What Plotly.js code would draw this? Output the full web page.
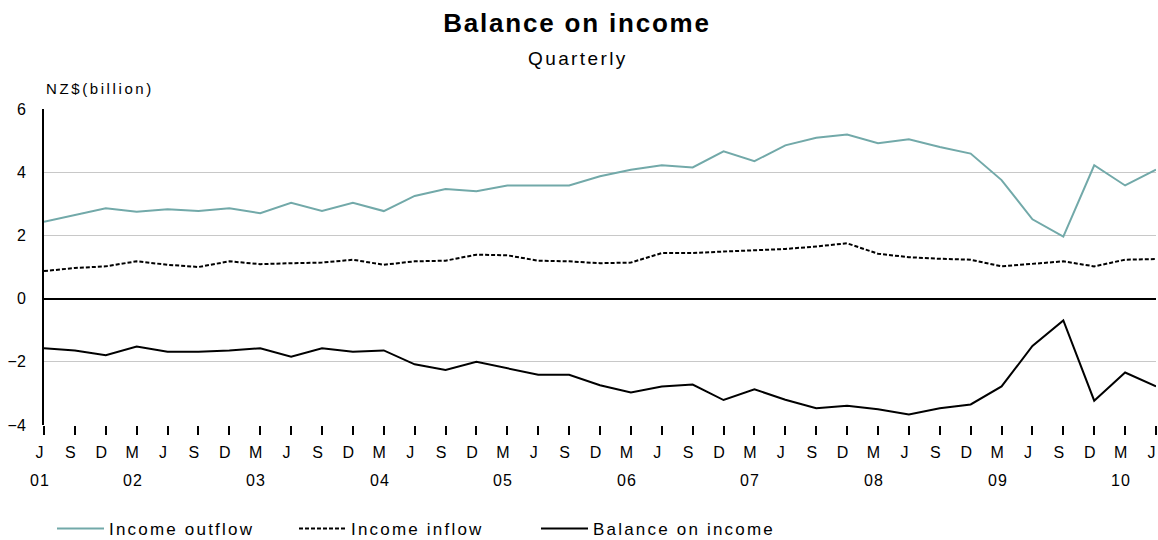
<!DOCTYPE html>
<html>
<head>
<meta charset="utf-8">
<script src="https://cdn.plot.ly/plotly-3.0.1.min.js"></script>
<style>
  html, body { margin: 0; padding: 0; background: #fff; }
  #chart { width: 1158px; height: 540px; }
</style>
</head>
<body>
<div id="chart"></div>
<script>
const quarters = ['J','S','D','M','J','S','D','M','J','S','D','M','J','S','D','M','J','S','D','M',
                  'J','S','D','M','J','S','D','M','J','S','D','M','J','S','D','M','J'];
const years = ['01','02','03','04','05','06','07','08','09','10'];
const seriesNames = ['Income outflow', 'Income inflow', 'Balance on income'];

const outflow = [2.43,2.65,2.86,2.75,2.83,2.77,2.86,2.70,3.03,2.77,3.03,2.77,
                 3.25,3.47,3.40,3.58,3.58,3.58,3.87,4.08,4.22,4.15,4.66,4.35,
                 4.85,5.09,5.19,4.92,5.04,4.80,4.59,3.75,2.51,1.96,4.22,3.58,4.08];
const inflow  = [0.87,0.97,1.02,1.18,1.07,1.00,1.18,1.09,1.12,1.14,1.23,1.07,
                 1.18,1.20,1.39,1.37,1.20,1.18,1.12,1.14,1.44,1.44,1.49,1.54,
                 1.57,1.65,1.75,1.42,1.31,1.26,1.23,1.02,1.09,1.18,1.02,1.23,1.25];
const balance = [-1.57,-1.64,-1.79,-1.52,-1.68,-1.68,-1.64,-1.57,-1.84,-1.57,-1.68,-1.64,
                 -2.08,-2.26,-2.00,-2.20,-2.41,-2.41,-2.74,-2.97,-2.78,-2.72,-3.21,-2.87,
                 -3.20,-3.47,-3.39,-3.50,-3.67,-3.47,-3.35,-2.78,-1.50,-0.69,-3.23,-2.34,-2.78];

const idx = quarters.map((q, i) => i);
// year labels sit under the first quarter and under each March quarter
const yearIdx = [0].concat(idx.filter(i => quarters[i] === 'M'));

const FONT = '"Liberation Sans", Arial, sans-serif';
const sp = (t, px) => '<span style="letter-spacing:' + px + 'px">' + t + '</span>';

const traces = [
  { x: idx, y: outflow, name: sp(seriesNames[0], 2.2), type: 'scatter', mode: 'lines',
    line: { color: '#72a9a9', width: 2 } },
  { x: idx, y: inflow, name: sp(seriesNames[1], 2.2), type: 'scatter', mode: 'lines',
    line: { color: '#000000', width: 2, dash: '4px,2px' } },
  { x: idx, y: balance, name: sp(seriesNames[2], 2.2), type: 'scatter', mode: 'lines',
    line: { color: '#000000', width: 2 } }
];

const annotations = years.map((yr, k) => ({
  x: yearIdx[k], xref: 'x', y: 0, yref: 'paper',
  text: sp(yr, 1), showarrow: false, xanchor: 'center', yanchor: 'middle',
  xshift: -4, yshift: -55,
  font: { family: FONT, size: 16, color: '#000' }
}));
annotations.push({
  x: 0, xref: 'paper', y: 1 + 20.5/316, yref: 'paper', text: sp('NZ$(billion)', 2.6),
  showarrow: false, xanchor: 'left', yanchor: 'middle', xshift: 0,
  font: { family: FONT, size: 15, color: '#000' }
});
annotations.push({
  x: (578 - 44) / 1112, xref: 'paper', y: 1 + 51/316, yref: 'paper', text: sp('Quarterly', 2.4),
  showarrow: false, xanchor: 'center', yanchor: 'middle',
  font: { family: FONT, size: 19, color: '#000' }
});

const layout = {
  width: 1158, height: 540,
  margin: { l: 44, r: 2, t: 109, b: 115 },
  paper_bgcolor: '#fff', plot_bgcolor: '#fff',
  font: { family: FONT, size: 16, color: '#000' },
  title: { text: sp('<b>Balance on income</b>', 1.8), x: 577/1158, xref: 'container', xanchor: 'center',
           y: 1 - 23/540, yref: 'container', yanchor: 'middle',
           font: { family: FONT, size: 26, color: '#000' } },
  xaxis: {
    range: [0, 36], tickmode: 'array', tickvals: idx, ticktext: quarters.map(q => sp(q, 1)),
    showgrid: false, zeroline: false, showline: false,
    ticks: 'outside', ticklen: 9, tickwidth: 2, tickcolor: '#000',
    ticklabelshift: -4, ticklabelstandoff: 4,
    tickfont: { family: FONT, size: 16, color: '#000' }, fixedrange: true
  },
  yaxis: {
    range: [-4, 6], tickmode: 'linear', tick0: 0, dtick: 2,
    showgrid: true, gridcolor: '#c8c8c8', gridwidth: 1,
    zeroline: true, zerolinecolor: '#000', zerolinewidth: 2,
    showline: true, linecolor: '#000', linewidth: 2,
    ticks: '', ticklabelstandoff: 13,
    tickfont: { family: FONT, size: 16, color: '#000' }, fixedrange: true
  },
  showlegend: true,
  legend: {
    orientation: 'h', xref: 'container', yref: 'container',
    x: 52/1158, xanchor: 'left', y: 11/540, yanchor: 'middle',
    itemwidth: 47, entrywidth: 180, entrywidthmode: 'pixels',
    font: { family: FONT, size: 17, color: '#000' },
    bgcolor: 'rgba(0,0,0,0)'
  },
  annotations: annotations,
  hovermode: false
};

Plotly.newPlot('chart', traces, layout, { displayModeBar: false, staticPlot: true });
</script>
</body>
</html>
